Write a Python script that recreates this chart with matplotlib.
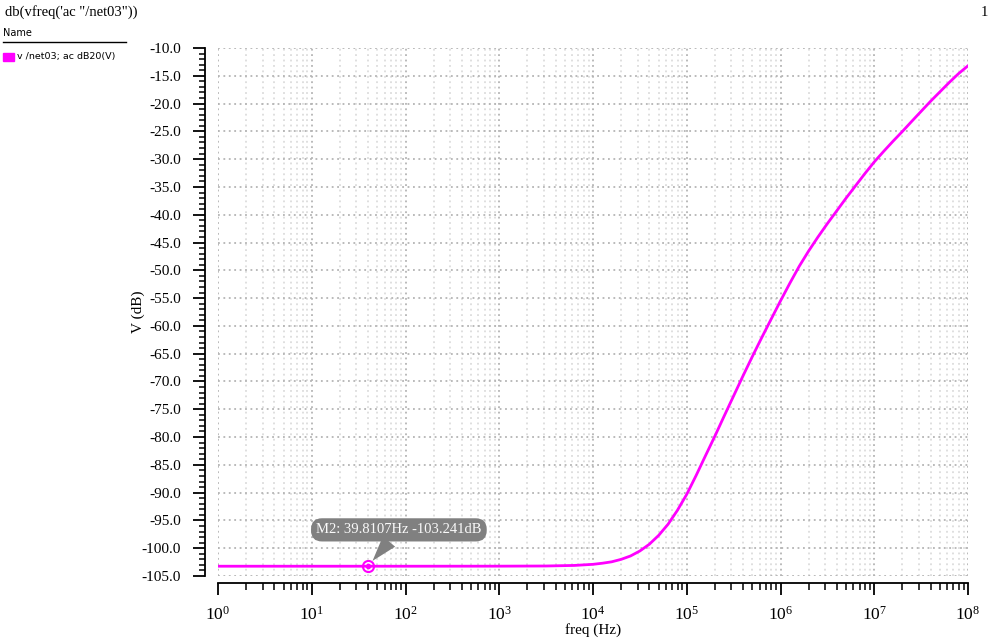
import numpy as np
import matplotlib
matplotlib.use("Agg")
import matplotlib.pyplot as plt
from matplotlib.ticker import MultipleLocator, LogLocator, NullFormatter, FormatStrFormatter

plt.rcParams['font.family'] = ['Liberation Serif', 'DejaVu Serif']
plt.rcParams['mathtext.fontset'] = 'custom'
plt.rcParams['mathtext.rm'] = 'Liberation Serif'
plt.rcParams['mathtext.it'] = 'Liberation Serif:italic'

# data
freq = [1, 10, 100, 1e3, 3.16e3, 6.31e3,
        1e4, 1.26e4, 1.58e4, 2e4, 2.51e4, 3.16e4, 3.98e4, 5.01e4, 6.31e4, 7.94e4,
        1e5, 1.26e5, 1.58e5, 2e5, 2.51e5, 3.16e5, 3.98e5, 5.01e5, 6.31e5, 7.94e5,
        1e6, 1.26e6, 1.58e6, 2e6, 2.51e6, 3.16e6, 3.98e6, 5.01e6, 6.31e6, 7.94e6,
        1e7, 1.26e7, 1.58e7, 2e7, 2.51e7, 3.16e7, 3.98e7, 5.01e7, 6.31e7, 7.94e7, 1e8]
vdb = [-103.24, -103.24, -103.24, -103.23, -103.2, -103.1,
       -102.9, -102.7, -102.45, -102.0, -101.4, -100.5, -99.3, -97.7, -95.7, -93.2,
       -90.3, -86.9, -83.4, -79.8, -76.2, -72.6, -69.0, -65.5, -62.1, -58.8,
       -55.5, -52.3, -49.3, -46.5, -44.0, -41.6, -39.3, -37.0, -34.8, -32.6,
       -30.5, -28.6, -26.8, -25.0, -23.2, -21.4, -19.6, -17.9, -16.2, -14.6, -13.2]
marker_f = 39.8107
marker_db = -103.241

magenta = '#ff00ff'

fig = plt.figure(figsize=(9.96, 6.4), dpi=100)
ax = fig.add_axes([218/996, 1-576/640, 750/996, 528/640])

ax.semilogx(freq, vdb, color=magenta, lw=2, solid_joinstyle='round')
ax.set_xlim(1, 1e8)
ax.set_ylim(-105, -10)

# ticks + grid
ax.yaxis.set_major_locator(MultipleLocator(5))
ax.yaxis.set_minor_locator(MultipleLocator(1))
ax.yaxis.set_major_formatter(FormatStrFormatter('%.1f'))
ax.xaxis.set_major_locator(LogLocator(base=10, numticks=20))
ax.xaxis.set_minor_locator(LogLocator(base=10, subs=np.arange(2, 10), numticks=20))
ax.xaxis.set_minor_formatter(NullFormatter())
ax.grid(True, which='major', axis='both', color='#b4b4b4', ls=(0, (1, 2)), lw=1.3)
ax.grid(True, which='minor', axis='x', color='#dcdcdc', ls=(0, (1, 2)), lw=1.3)

for s in ['top', 'right']:
    ax.spines[s].set_visible(False)
# outward is in points: 13 px and 7 px at 100 dpi
ax.spines['left'].set_position(('outward', 9.4))
ax.spines['bottom'].set_position(('outward', 5.0))
ax.spines['left'].set_linewidth(1.3)
ax.spines['bottom'].set_linewidth(1.3)

ax.tick_params(axis='y', which='major', length=8.6, width=1.3, pad=8.5, labelsize=11)
ax.tick_params(axis='y', which='minor', length=4.5, width=1.1)
ax.tick_params(axis='x', which='major', length=8.6, width=1.3, pad=8, labelsize=12.5)
ax.tick_params(axis='x', which='minor', length=5, width=1.1)

ax.set_xlabel('freq (Hz)', fontsize=11, va='center')
ax.xaxis.set_label_coords(0.5, (576-630)/528)
ax.set_ylabel('V (dB)', fontsize=11, va='center')
ax.yaxis.set_label_coords((138-218)/750, 0.5)

# marker M2
ax.plot([marker_f], [marker_db], 'o', ms=8, mfc='none', mec=magenta, mew=1.5, zorder=5)
ax.plot([marker_f], [marker_db], 'o', ms=3, color=magenta, zorder=5)
ax.annotate('M2: 39.8107Hz -103.241dB', xy=(marker_f, marker_db), xytext=(85, -96.7),
            textcoords='data', fontsize=10.5, color='#fafafa', ha='center', va='center',
            bbox=dict(boxstyle='round,pad=0.35,rounding_size=0.75', fc='#808080', ec='none'),
            arrowprops=dict(arrowstyle='wedge,tail_width=1.1,shrink_factor=0.5', fc='#808080', ec='none',
                            shrinkA=0, shrinkB=5))

# title and legend
fig.text(5/996, 1-12/640, 'db(vfreq(\'ac "/net03"))', fontsize=10.5, va='center', ha='left')
fig.text(988/996, 1-12/640, '1', fontsize=10.5, va='center', ha='right')
fig.text(3/996, 1-33/640, 'Name', fontsize=7, family='DejaVu Sans', va='center', ha='left')
fig.add_artist(plt.Line2D([3/996, 126/996], [1-42/640, 1-42/640], color='black', lw=1))
fig.add_artist(plt.Rectangle((3/996, 1-61/640), 11/996, 8/640, color=magenta))
fig.text(17/996, 1-57/640, 'v /net03; ac dB20(V)', fontsize=6.8, family='DejaVu Sans', va='center', ha='left')

fig.savefig('out.png', dpi=100)
